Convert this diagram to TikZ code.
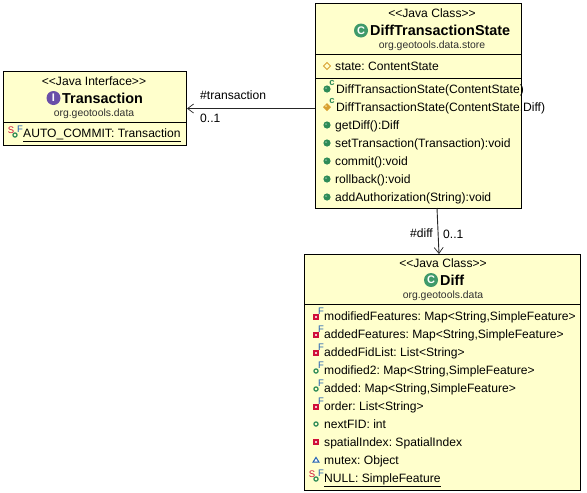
\documentclass[tikz,border=0pt]{standalone}
\usepackage{fontspec}
\usetikzlibrary{arrows.meta}
\setmainfont{Liberation Sans}
\definecolor{boxfill}{HTML}{FFFFCC}
\definecolor{pubgreen}{HTML}{2E8B57}
\definecolor{privred}{HTML}{D0103A}
\definecolor{protgold}{HTML}{D8A030}
\definecolor{pkgblue}{HTML}{2060B0}
\definecolor{ifacepurple}{HTML}{6A4FA8}
\definecolor{classgreen}{HTML}{3F9A6A}
\definecolor{pkggray}{HTML}{303030}
\newcommand{\memfont}{\fontsize{12.1}{14}\selectfont\frenchspacing}
\tikzset{
  x=1pt,y=-1pt,
  umlbox/.style={draw=black,line width=1pt,fill=boxfill,inner sep=0pt,anchor=north west},
  sect/.style={black,line width=0.8pt},
  stereo/.style={inner sep=0pt,anchor=center,font=\memfont},
  titletxt/.style={inner sep=0pt,anchor=west,font=\fontsize{14.4}{16}\selectfont\bfseries},
  pkgtxt/.style={inner sep=0pt,anchor=center,text=pkggray,font=\fontsize{10.4}{12}\selectfont},
  member/.style={inner sep=0pt,anchor=base west,font=\memfont},
  conn/.style={line width=0.9pt,draw=black!85,-{Straight Barb[length=6pt,width=9pt,line width=0.7pt]}},
  conntxt/.style={inner sep=0pt,anchor=base west,font=\memfont},
  badge/.style={inner sep=0pt,text=#1,font=\fontsize{9.5}{9.5}\selectfont},
  cbadge/.style={inner sep=0pt,text=pubgreen,font=\fontsize{9.5}{9.5}\selectfont\bfseries},
  pubdot/.style={draw=pubgreen,fill=#1,line width=1.2pt},
  pubdot/.default=boxfill,
  pics/classicon/.style 2 args={code={
    \fill[#1] (0,0) circle (7);
    \node[inner sep=0pt,text=white,font=\fontsize{11}{11}\selectfont\bfseries] at (0,0) {#2};
  }},
  pics/pubm/.style={code={\fill[pubgreen] (0,0) circle (3.6);\fill[pubgreen!60!white] (-1,-1) circle (1);}},
  pics/pubr/.style={code={\draw[pubdot] (0,0) circle (2.1);}},
  pics/priv/.style={code={\draw[privred,line width=1.3pt,fill=privred!25] (-2,-2) rectangle (2,2);}},
  pics/prot/.style={code={\draw[protgold,fill=boxfill,line width=0.9pt] (-3.6,0)--(0,-3.6)--(3.6,0)--(0,3.6)--cycle;}},
  pics/protf/.style={code={\fill[protgold] (-4,0)--(0,-4)--(4,0)--(0,4)--cycle;\fill[boxfill!60!protgold] (-1,-1) circle (1);}},
  pics/pkgm/.style={code={\draw[pkgblue,line width=1pt,fill=white] (-3,2.2)--(0,-2.6)--(3,2.2)--cycle;}},
}
\begin{document}
\begin{tikzpicture}
\useasboundingbox (0,0) rectangle (587,493);
\fill[white] (0,0) rectangle (587,493);
% boxes
\node[umlbox,minimum width=183pt,minimum height=74pt] (trans) at (3,71) {};
\node[umlbox,minimum width=206pt,minimum height=205pt] (dts) at (315,3) {};
\node[umlbox,minimum width=276pt,minimum height=236pt] (diff) at (304,254) {};
% compartments
\draw[sect] (3,122) -- (186,122);
\draw[sect] (315,54) -- (521,54);
\draw[sect] (315,78) -- (521,78);
\draw[sect] (304,304) -- (580,304);
% connectors
\coordinate (dtsout) at (437,208);
\coordinate (diffin) at (439,254);
\draw[conn] (dts.west |- trans.east) -- (trans.east);
\draw[conn] (dtsout) -- (diffin);
\node[conntxt] (lt) at (200,99) {\#transaction};
\node[conntxt] (lm) at (200,122) {0..1};
\node[conntxt] (ld) at (410,237) {\#diff};
\node[conntxt] (ldm) at (443,238) {0..1};
% Transaction
\node[stereo] (ts) at (94,81) {<{}<Java Interface>{}>};
\pic at (53.5,98) {classicon={ifacepurple}{I}};
\node[titletxt] (tt) at (62,98) {Transaction};
\node[pkgtxt] (tp) at (94,114) {org.geotools.data};
\pic at (15,135) {pubr};
\node[badge=privred] (tb1) at (11,130) {S};
\node[badge=pkgblue] (tb2) at (20,129) {F};
\node[member] (tm) at (23,137) {\underline{AUTO\_COMMIT: Transaction}};
% DiffTransactionState
\node[stereo] (ds) at (432,13) {<{}<Java Class>{}>};
\pic at (361,30.5) {classicon={classgreen}{C}};
\node[titletxt] (dt) at (370,30.5) {DiffTransactionState};
\node[pkgtxt] (dp) at (432,46) {org.geotools.data.store};
\pic at (327,66) {prot};
\node[member] at (335,70) {state: ContentState};
\pic at (327,89) {pubm};
\node[cbadge] at (332,83) {c};
\node[member] at (336,93) {DiffTransactionState(ContentState)};
\pic at (327,107) {protf};
\node[cbadge] at (332,101) {c};
\node[member] at (336,111) {DiffTransactionState(ContentState,Diff)};
\foreach \yy/\nm/\tx in {125/a/getDiff():Diff,143/b/setTransaction(Transaction):void,161/c/commit():void,179/d/rollback():void,197/e/addAuthorization(String):void}{
  \pic at (327,\yy) {pubm};
  \node[member] (m\nm) at (335,\yy+4) {\tx};
}
% Diff
\node[stereo] (fs) at (443,263) {<{}<Java Class>{}>};
\pic at (431,280) {classicon={classgreen}{C}};
\node[titletxt] (ft) at (440,280) {Diff};
\node[pkgtxt] (fp) at (443,296) {org.geotools.data};
\foreach \yy/\tx in {316/{modifiedFeatures: Map<String,SimpleFeature>},334/{addedFeatures: Map<String,SimpleFeature>},352/{addedFidList: List<String>},406/{order: List<String>}}{
  \pic at (316,\yy+1) {priv};
  \node[badge=pkgblue] at (321,\yy-4.5) {F};
  \node[member] at (324,\yy+4) {\tx};
}
\foreach \yy/\tx in {370/{modified2: Map<String,SimpleFeature>},388/{added: Map<String,SimpleFeature>}}{
  \pic at (316,\yy+1) {pubr};
  \node[badge=pkgblue] at (321,\yy-4.5) {F};
  \node[member] at (324,\yy+4) {\tx};
}
\pic at (316,424) {pubr};
\node[member] at (324,428) {nextFID: int};
\pic at (316,442) {priv};
\node[member] at (324,446) {spatialIndex: SpatialIndex};
\pic at (316,460) {pkgm};
\node[member] at (324,464) {mutex: Object};
\pic at (316,479) {pubr};
\node[badge=privred] at (312,474) {S};
\node[badge=pkgblue] at (321,473.5) {F};
\node[member] at (324,482) {\underline{NULL: SimpleFeature}};
\end{tikzpicture}
\end{document}
